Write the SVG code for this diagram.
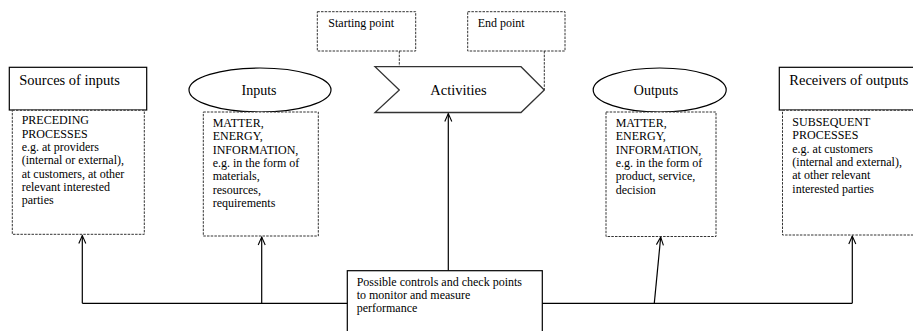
<svg xmlns="http://www.w3.org/2000/svg" width="913" height="331" viewBox="0 0 913 331">
<defs>
<style>
.solid{fill:#fff;stroke:#000;stroke-width:1.2}
.dash{fill:#fff;stroke:#333;stroke-width:1;stroke-dasharray:2.5,1.2}
.dline{fill:none;stroke:#333;stroke-width:1;stroke-dasharray:2.5,1.2}
.conn{fill:none;stroke:#000;stroke-width:1.2}
.title{font-family:"Liberation Serif","Times New Roman",serif;font-size:14.5px;fill:#000}
.body{font-family:"Liberation Serif","Times New Roman",serif;font-size:12px;fill:#000}
</style>
<marker id="arr" viewBox="-10 -5 12 10" refX="0" refY="0" markerWidth="12" markerHeight="10" markerUnits="userSpaceOnUse" orient="auto">
<path d="M-8,-3.5 L0,0 L-8,3.5" fill="none" stroke="#000" stroke-width="1.1"/>
</marker>
</defs>
<rect width="913" height="331" fill="#fff"/>

<g id="connectors">
<polyline class="conn" points="82.3,303.3 542,303.3"/>
<polyline class="conn" points="542,303.3 852.3,303.3"/>
<line class="conn" x1="82.3" y1="303.3" x2="82.3" y2="235.5" marker-end="url(#arr)"/>
<line class="conn" x1="261.7" y1="303.3" x2="261.7" y2="237" marker-end="url(#arr)"/>
<line class="conn" x1="448.3" y1="270.5" x2="448.3" y2="113.5" marker-end="url(#arr)"/>
<line class="conn" x1="654.3" y1="303.3" x2="660.7" y2="237" marker-end="url(#arr)"/>
<line class="conn" x1="852.3" y1="303.3" x2="852.3" y2="236" marker-end="url(#arr)"/>
<line class="dline" x1="399.3" y1="51" x2="399.3" y2="90"/>
<line class="dline" x1="544.3" y1="51" x2="544.3" y2="90"/>
</g>

<g id="sources">
<rect class="solid" x="9.3" y="67.3" width="137.4" height="42.7"/>
<text class="title" x="19.3" y="85">Sources of inputs</text>
<rect class="dash" x="12.3" y="110.3" width="132" height="124"/>
<text class="body" x="21.7" y="124.3">PRECEDING</text>
<text class="body" x="21.7" y="137.6">PROCESSES</text>
<text class="body" x="21.7" y="150.9">e.g. at providers</text>
<text class="body" x="21.7" y="164.2">(internal or external),</text>
<text class="body" x="21.7" y="177.5">at customers, at other</text>
<text class="body" x="21.7" y="190.8">relevant interested</text>
<text class="body" x="21.7" y="204.1">parties</text>
</g>

<g id="inputs">
<ellipse cx="260" cy="90" rx="71" ry="22" fill="#fff" stroke="#000" stroke-width="1.2"/>
<text class="title" x="259" y="95" text-anchor="middle" style="font-size:14px">Inputs</text>
<rect class="dash" x="203.3" y="112" width="115" height="124"/>
<text class="body" x="212.7" y="127">MATTER,</text>
<text class="body" x="212.7" y="140.3">ENERGY,</text>
<text class="body" x="212.7" y="153.6">INFORMATION,</text>
<text class="body" x="212.7" y="166.9">e.g. in the form of</text>
<text class="body" x="212.7" y="180.2">materials,</text>
<text class="body" x="212.7" y="193.5">resources,</text>
<text class="body" x="212.7" y="206.8">requirements</text>
</g>

<g id="starting-point">
<rect class="dash" x="317.3" y="11.7" width="98.4" height="39.3"/>
<text class="body" x="328.3" y="26.7">Starting point</text>
</g>

<g id="end-point">
<rect class="dash" x="467.7" y="11.7" width="97.3" height="39.3"/>
<text class="body" x="477.7" y="26.7">End point</text>
</g>

<g id="activities">
<polygon points="375,66.7 521,66.7 544.3,90 521,112.5 375,112.5 399.3,90" fill="#fff" stroke="#333" stroke-width="1.3"/>
<text class="title" x="458.5" y="95" text-anchor="middle">Activities</text>
</g>

<g id="outputs">
<ellipse cx="659.7" cy="90" rx="66.5" ry="22" fill="#fff" stroke="#000" stroke-width="1.2"/>
<text class="title" x="656" y="95" text-anchor="middle" style="font-size:14px">Outputs</text>
<rect class="dash" x="606" y="112" width="110" height="124.5"/>
<text class="body" x="615.7" y="127">MATTER,</text>
<text class="body" x="615.7" y="140.3">ENERGY,</text>
<text class="body" x="615.7" y="153.6">INFORMATION,</text>
<text class="body" x="615.7" y="166.9">e.g. in the form of</text>
<text class="body" x="615.7" y="180.2">product, service,</text>
<text class="body" x="615.7" y="193.5">decision</text>
</g>

<g id="receivers">
<rect class="solid" x="779.3" y="67.3" width="145" height="42.7"/>
<text class="title" x="789.3" y="85">Receivers of outputs</text>
<rect class="dash" x="782.5" y="110.3" width="140" height="124.7"/>
<text class="body" x="792.3" y="126">SUBSEQUENT</text>
<text class="body" x="792.3" y="139.3">PROCESSES</text>
<text class="body" x="792.3" y="152.6">e.g. at customers</text>
<text class="body" x="792.3" y="165.9">(internal and external),</text>
<text class="body" x="792.3" y="179.2">at other relevant</text>
<text class="body" x="792.3" y="192.5">interested parties</text>
</g>

<g id="controls">
<rect class="solid" x="347.3" y="270.7" width="195" height="70"/>
<text class="body" x="356.7" y="285.7">Possible controls and check points</text>
<text class="body" x="356.7" y="299">to monitor and measure</text>
<text class="body" x="356.7" y="312.3">performance</text>
</g>
</svg>
